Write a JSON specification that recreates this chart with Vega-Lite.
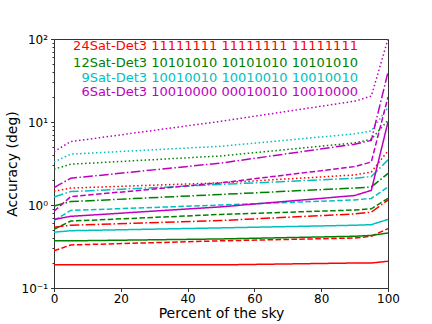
{
  "$schema": "https://vega.github.io/schema/vega-lite/v6.json",
  "autosize": {"type": "none"},
  "padding": {"left": 54, "top": 39, "right": 44, "bottom": 36},
  "width": 334,
  "height": 249,
  "background": "white",
  "config": {
    "font": "DejaVu Sans",
    "view": {"stroke": "#333", "strokeWidth": 1},
    "axis": {"grid": false, "labelFont": "DejaVu Sans", "titleFont": "DejaVu Sans", "labelColor": "#000", "titleColor": "#000", "domainColor": "#333", "tickColor": "#333", "labelFontSize": 12, "titleFontSize": 14, "titleFontWeight": "normal"}
  },
  "datasets": {
    "lines": [
      {"c":"24Sat","s":"solid","x":0,"y":0.19},{"c":"24Sat","s":"solid","x":5,"y":0.19},{"c":"24Sat","s":"solid","x":50,"y":0.19},{"c":"24Sat","s":"solid","x":90,"y":0.2},{"c":"24Sat","s":"solid","x":95,"y":0.2},{"c":"24Sat","s":"solid","x":100,"y":0.21},
      {"c":"24Sat","s":"dashed","x":0,"y":0.28},{"c":"24Sat","s":"dashed","x":5,"y":0.33},{"c":"24Sat","s":"dashed","x":50,"y":0.37},{"c":"24Sat","s":"dashed","x":90,"y":0.4},{"c":"24Sat","s":"dashed","x":95,"y":0.42},{"c":"24Sat","s":"dashed","x":100,"y":0.52},
      {"c":"24Sat","s":"dashdot","x":0,"y":0.54},{"c":"24Sat","s":"dashdot","x":5,"y":0.57},{"c":"24Sat","s":"dashdot","x":50,"y":0.65},{"c":"24Sat","s":"dashdot","x":90,"y":0.78},{"c":"24Sat","s":"dashdot","x":95,"y":0.82},{"c":"24Sat","s":"dashdot","x":100,"y":1.15},
      {"c":"24Sat","s":"dotted","x":0,"y":1.47},{"c":"24Sat","s":"dotted","x":5,"y":1.6},{"c":"24Sat","s":"dotted","x":50,"y":1.85},{"c":"24Sat","s":"dotted","x":90,"y":2.3},{"c":"24Sat","s":"dotted","x":95,"y":2.5},{"c":"24Sat","s":"dotted","x":100,"y":4.5},
      {"c":"12Sat","s":"solid","x":0,"y":0.37},{"c":"12Sat","s":"solid","x":5,"y":0.37},{"c":"12Sat","s":"solid","x":50,"y":0.39},{"c":"12Sat","s":"solid","x":90,"y":0.42},{"c":"12Sat","s":"solid","x":95,"y":0.43},{"c":"12Sat","s":"solid","x":100,"y":0.46},
      {"c":"12Sat","s":"dashed","x":0,"y":0.51},{"c":"12Sat","s":"dashed","x":5,"y":0.64},{"c":"12Sat","s":"dashed","x":50,"y":0.77},{"c":"12Sat","s":"dashed","x":90,"y":0.87},{"c":"12Sat","s":"dashed","x":95,"y":0.9},{"c":"12Sat","s":"dashed","x":100,"y":1.2},
      {"c":"12Sat","s":"dashdot","x":0,"y":0.97},{"c":"12Sat","s":"dashdot","x":5,"y":1.1},{"c":"12Sat","s":"dashdot","x":50,"y":1.34},{"c":"12Sat","s":"dashdot","x":90,"y":1.6},{"c":"12Sat","s":"dashdot","x":95,"y":1.65},{"c":"12Sat","s":"dashdot","x":100,"y":2.4},
      {"c":"12Sat","s":"dotted","x":0,"y":2.7},{"c":"12Sat","s":"dotted","x":5,"y":3.1},{"c":"12Sat","s":"dotted","x":50,"y":3.9},{"c":"12Sat","s":"dotted","x":90,"y":5.6},{"c":"12Sat","s":"dotted","x":95,"y":6.2},{"c":"12Sat","s":"dotted","x":100,"y":10.5},
      {"c":"9Sat","s":"solid","x":0,"y":0.47},{"c":"9Sat","s":"solid","x":5,"y":0.49},{"c":"9Sat","s":"solid","x":50,"y":0.53},{"c":"9Sat","s":"solid","x":90,"y":0.57},{"c":"9Sat","s":"solid","x":95,"y":0.58},{"c":"9Sat","s":"solid","x":100,"y":0.67},
      {"c":"9Sat","s":"dashed","x":0,"y":0.65},{"c":"9Sat","s":"dashed","x":5,"y":0.86},{"c":"9Sat","s":"dashed","x":50,"y":1.0},{"c":"9Sat","s":"dashed","x":90,"y":1.15},{"c":"9Sat","s":"dashed","x":95,"y":1.2},{"c":"9Sat","s":"dashed","x":100,"y":1.65},
      {"c":"9Sat","s":"dashdot","x":0,"y":1.25},{"c":"9Sat","s":"dashdot","x":5,"y":1.45},{"c":"9Sat","s":"dashdot","x":50,"y":1.77},{"c":"9Sat","s":"dashdot","x":90,"y":2.1},{"c":"9Sat","s":"dashdot","x":95,"y":2.2},{"c":"9Sat","s":"dashdot","x":100,"y":3.5},
      {"c":"9Sat","s":"dotted","x":0,"y":3.3},{"c":"9Sat","s":"dotted","x":5,"y":4.1},{"c":"9Sat","s":"dotted","x":50,"y":5.1},{"c":"9Sat","s":"dotted","x":90,"y":7.2},{"c":"9Sat","s":"dotted","x":95,"y":7.8},{"c":"9Sat","s":"dotted","x":100,"y":15},
      {"c":"6Sat","s":"solid","x":0,"y":0.67},{"c":"6Sat","s":"solid","x":5,"y":0.73},{"c":"6Sat","s":"solid","x":50,"y":0.95},{"c":"6Sat","s":"solid","x":90,"y":1.3},{"c":"6Sat","s":"solid","x":95,"y":1.5},{"c":"6Sat","s":"solid","x":100,"y":10},
      {"c":"6Sat","s":"dashed","x":0,"y":0.84},{"c":"6Sat","s":"dashed","x":5,"y":1.26},{"c":"6Sat","s":"dashed","x":50,"y":1.85},{"c":"6Sat","s":"dashed","x":90,"y":2.9},{"c":"6Sat","s":"dashed","x":95,"y":3.3},{"c":"6Sat","s":"dashed","x":100,"y":20},
      {"c":"6Sat","s":"dashdot","x":0,"y":1.62},{"c":"6Sat","s":"dashdot","x":5,"y":2.1},{"c":"6Sat","s":"dashdot","x":50,"y":3.2},{"c":"6Sat","s":"dashdot","x":90,"y":5.4},{"c":"6Sat","s":"dashdot","x":95,"y":6.0},{"c":"6Sat","s":"dashdot","x":100,"y":40},
      {"c":"6Sat","s":"dotted","x":0,"y":4.4},{"c":"6Sat","s":"dotted","x":5,"y":5.8},{"c":"6Sat","s":"dotted","x":50,"y":10.2},{"c":"6Sat","s":"dotted","x":90,"y":17.8},{"c":"6Sat","s":"dotted","x":95,"y":20.5},{"c":"6Sat","s":"dotted","x":100,"y":100}
    ],
    "labels": [
      {"c":"24Sat","t":"24Sat-Det3 11111111 11111111 11111111","x":91,"y":81.5},
      {"c":"12Sat","t":"12Sat-Det3 10101010 10101010 10101010","x":91,"y":51.5},
      {"c":"9Sat","t":"9Sat-Det3 10010010 10010010 10010010","x":91,"y":33.8},
      {"c":"6Sat","t":"6Sat-Det3 10010000 00010010 10010000","x":91,"y":23}
    ]
  },
  "layer": [
    {
      "data": {"name": "lines"},
      "mark": {"type": "line", "strokeWidth": 1.5, "clip": true},
      "encoding": {
        "x": {"field": "x", "type": "quantitative", "scale": {"domain": [0, 100], "nice": false},
              "axis": {"values": [0, 20, 40, 60, 80, 100], "title": "Percent of the sky", "tickSize": 3.5, "labelPadding": 2, "titlePadding": 2, "labelFlush": false}},
        "y": {"field": "y", "type": "quantitative", "scale": {"type": "log", "domain": [0.1, 100], "nice": false},
              "axis": {"values": [0.1,0.2,0.3,0.4,0.5,0.6,0.7,0.8,0.9,1,2,3,4,5,6,7,8,9,10,20,30,40,50,60,70,80,90,100],
                       "labelExpr": "datum.value == 100 ? '10²' : datum.value == 10 ? '10¹' : datum.value == 1 ? '10⁰' : datum.value == 0.1 ? '10⁻¹' : ''",
                       "tickSize": {"condition": {"test": "datum.value == 0.1 || datum.value == 1 || datum.value == 10 || datum.value == 100", "value": 3.5}, "value": 2},
                       "labelPadding": 3, "title": "Accuracy (deg)", "titleX": -42, "titleY": 124.5, "titleAngle": -90, "titleAlign": "center", "titleBaseline": "middle", "labelFlush": false}},
        "color": {"field": "c", "type": "nominal", "scale": {"domain": ["24Sat","12Sat","9Sat","6Sat"], "range": ["#ff0000","#008000","#00bfbf","#bf00bf"]}, "legend": null},
        "strokeDash": {"field": "s", "type": "nominal", "scale": {"domain": ["solid","dashed","dashdot","dotted"], "range": [[1,0],[5.55,2.4],[9.6,2.4,1.5,2.4],[1.5,2.475]]}, "legend": null}
      }
    },
    {
      "data": {"name": "labels"},
      "mark": {"type": "text", "align": "right", "baseline": "middle", "fontSize": 13, "font": "DejaVu Sans"},
      "encoding": {
        "x": {"field": "x", "type": "quantitative"},
        "y": {"field": "y", "type": "quantitative"},
        "text": {"field": "t"},
        "color": {"field": "c", "type": "nominal", "legend": null}
      }
    }
  ]
}
